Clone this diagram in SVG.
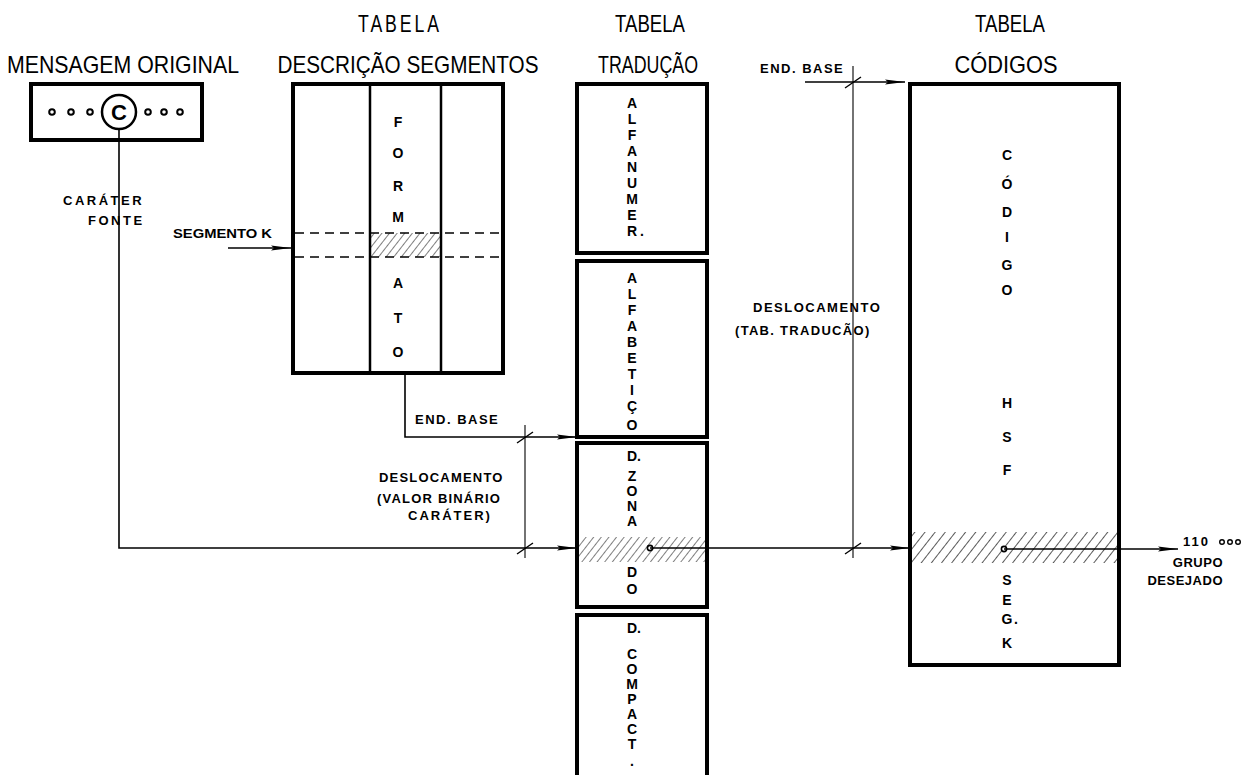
<svg xmlns="http://www.w3.org/2000/svg" width="1255" height="775" viewBox="0 0 1255 775">
  <defs>
    <style>
      .title { font-family: "Liberation Sans", Arial, sans-serif; font-size: 24px; fill: #000; }
      .lbl { font-family: "Liberation Sans", Arial, sans-serif; font-weight: bold; font-size: 13px; fill: #000; }
      .vl { font-family: "Liberation Sans", Arial, sans-serif; font-weight: bold; font-size: 14px; fill: #000; text-anchor: middle; }
      .box { fill: #fff; stroke: #000; stroke-width: 4; }
      .col { stroke: #000; stroke-width: 2.5; fill: none; }
      .dash { stroke: #000; stroke-width: 1.3; stroke-dasharray: 9 6; fill: none; }
      .wire { stroke: #000; stroke-width: 1.6; fill: none; }
      .thin { stroke: #000; stroke-width: 1.1; fill: none; }
      .tick { stroke: #000; stroke-width: 1.4; }
    </style>
    <pattern id="hatch" patternUnits="userSpaceOnUse" width="6" height="6" patternTransform="rotate(38)">
      <line x1="0" y1="0" x2="0" y2="6" stroke="#000" stroke-width="1"/>
    </pattern>
    <pattern id="hatchWide" patternUnits="userSpaceOnUse" width="8" height="8" patternTransform="rotate(38)">
      <line x1="0" y1="0" x2="0" y2="8" stroke="#000" stroke-width="1.3"/>
    </pattern>
    <marker id="arrow" markerUnits="userSpaceOnUse" markerWidth="22" markerHeight="10" refX="20" refY="5" orient="auto">
      <path d="M0,2.6 L20,5 L0,7.4 L3,5 z" fill="#000"/>
    </marker>
  </defs>

  <!-- headings -->
  <g id="titles">
    <text class="title" x="123" y="73" text-anchor="middle" textLength="232" lengthAdjust="spacingAndGlyphs">MENSAGEM ORIGINAL</text>
    <text class="title" x="400" y="32" text-anchor="middle" letter-spacing="4" textLength="84" lengthAdjust="spacingAndGlyphs">TABELA</text>
    <text class="title" x="408" y="73" text-anchor="middle" textLength="261" lengthAdjust="spacingAndGlyphs">DESCRIÇÃO  SEGMENTOS</text>
    <text class="title" x="650" y="32" text-anchor="middle" textLength="70" lengthAdjust="spacingAndGlyphs">TABELA</text>
    <text class="title" x="648" y="73" text-anchor="middle" textLength="100" lengthAdjust="spacingAndGlyphs">TRADUÇÃO</text>
    <text class="title" x="1010" y="32" text-anchor="middle" textLength="70" lengthAdjust="spacingAndGlyphs">TABELA</text>
    <text class="title" x="1006" y="73" text-anchor="middle" textLength="103" lengthAdjust="spacingAndGlyphs">CÓDIGOS</text>
  </g>

  <!-- source message -->
  <g id="mensagem">
    <rect class="box" x="31" y="84" width="171" height="56"/>
    <circle cx="119" cy="112" r="17" fill="#fff" stroke="#000" stroke-width="2.5"/>
    <text x="119" y="120" text-anchor="middle" font-family="Liberation Sans, Arial, sans-serif" font-weight="bold" font-size="22">C</text>
    <g fill="#fff" stroke="#000" stroke-width="2">
      <circle cx="52" cy="112" r="2.8"/>
      <circle cx="71" cy="112" r="2.8"/>
      <circle cx="90" cy="112" r="2.8"/>
      <circle cx="148" cy="112" r="2.8"/>
      <circle cx="164" cy="112" r="2.8"/>
      <circle cx="180" cy="112" r="2.8"/>
    </g>
  </g>

  <!-- segment description table -->
  <g id="descricao">
    <rect class="box" x="293" y="84" width="210" height="289"/>
    <rect x="370" y="233" width="71" height="24" fill="url(#hatch)"/>
    <line class="col" x1="370" y1="84" x2="370" y2="373"/>
    <line class="col" x1="441" y1="84" x2="441" y2="373"/>
    <line class="dash" x1="295" y1="233" x2="501" y2="233"/>
    <line class="dash" x1="295" y1="257" x2="501" y2="257"/>
    <text class="vl" x="398" y="127">F</text>
    <text class="vl" x="398" y="158">O</text>
    <text class="vl" x="398" y="191">R</text>
    <text class="vl" x="398" y="222">M</text>
    <text class="vl" x="398" y="288">A</text>
    <text class="vl" x="398" y="323">T</text>
    <text class="vl" x="398" y="357">O</text>
  </g>

  <!-- translation table, four sub-tables -->
  <g id="traducao">
    <rect class="box" x="577" y="84" width="130" height="169"/>
    <rect class="box" x="577" y="261" width="130" height="176"/>
    <rect class="box" x="577" y="443" width="130" height="164"/>
    <rect class="box" x="577" y="615" width="130" height="175"/>
    <rect x="579" y="537" width="126" height="25" fill="url(#hatch)"/>
    <g font-size="13">
      <text class="vl" x="632" y="108">A</text>
      <text class="vl" x="632" y="124">L</text>
      <text class="vl" x="632" y="140">F</text>
      <text class="vl" x="632" y="156">A</text>
      <text class="vl" x="632" y="172">N</text>
      <text class="vl" x="632" y="188">U</text>
      <text class="vl" x="632" y="204">M</text>
      <text class="vl" x="632" y="220">E</text>
      <text class="vl" x="632" y="236">R</text>
      <text class="vl" x="642" y="236">.</text>

      <text class="vl" x="632" y="283">A</text>
      <text class="vl" x="632" y="299">L</text>
      <text class="vl" x="632" y="315">F</text>
      <text class="vl" x="632" y="331">A</text>
      <text class="vl" x="632" y="347">B</text>
      <text class="vl" x="632" y="363">E</text>
      <text class="vl" x="632" y="379">T</text>
      <text class="vl" x="632" y="395">I</text>
      <text class="vl" x="632" y="411">Ç</text>
      <text class="vl" x="632" y="430">O</text>

      <text class="vl" x="634" y="461">D.</text>
      <text class="vl" x="632" y="481">Z</text>
      <text class="vl" x="632" y="496">O</text>
      <text class="vl" x="632" y="511">N</text>
      <text class="vl" x="632" y="526">A</text>
      <text class="vl" x="632" y="577">D</text>
      <text class="vl" x="632" y="594">O</text>

      <text class="vl" x="634" y="633">D.</text>
      <text class="vl" x="632" y="659">C</text>
      <text class="vl" x="632" y="674">O</text>
      <text class="vl" x="632" y="689">M</text>
      <text class="vl" x="632" y="704">P</text>
      <text class="vl" x="632" y="719">A</text>
      <text class="vl" x="632" y="734">C</text>
      <text class="vl" x="632" y="749">T</text>
      <text class="vl" x="632" y="766">.</text>
    </g>
    <circle cx="650" cy="548" r="2.6" fill="#fff" stroke="#000" stroke-width="1.6"/>
  </g>

  <!-- code table -->
  <g id="codigos">
    <rect class="box" x="910" y="84" width="209" height="581"/>
    <rect x="912" y="532" width="205" height="31" fill="url(#hatchWide)"/>
    <text class="vl" x="1007" y="160">C</text>
    <text class="vl" x="1007" y="189">Ó</text>
    <text class="vl" x="1007" y="217">D</text>
    <text class="vl" x="1007" y="242">I</text>
    <text class="vl" x="1007" y="270">G</text>
    <text class="vl" x="1007" y="295">O</text>
    <text class="vl" x="1007" y="408">H</text>
    <text class="vl" x="1007" y="442">S</text>
    <text class="vl" x="1007" y="475">F</text>
    <text class="vl" x="1007" y="585">S</text>
    <text class="vl" x="1007" y="605">E</text>
    <text class="vl" x="1007" y="624">G</text>
    <text class="vl" x="1016" y="624">.</text>
    <text class="vl" x="1007" y="648">K</text>
    <circle cx="1004" cy="549" r="2.6" fill="#fff" stroke="#000" stroke-width="1.6"/>
  </g>

  <!-- connectors and dimension lines -->
  <g id="connectors">
    <!-- source character down and across to the translation table -->
    <polyline class="wire" points="119,129 119,548 577,548" marker-end="url(#arrow)"/>
    <!-- segment K into the description table -->
    <line class="wire" x1="228" y1="248" x2="291" y2="248" marker-end="url(#arrow)"/>
    <!-- base address from description table -->
    <polyline class="wire" points="405,373 405,437 577,437" marker-end="url(#arrow)"/>
    <!-- displacement dimension (binary value) -->
    <line class="thin" x1="525" y1="425" x2="525" y2="558"/>
    <line class="tick" x1="517" y1="443" x2="533" y2="432"/>
    <line class="tick" x1="517" y1="554" x2="533" y2="543"/>
    <!-- translated value across to the code table -->
    <line class="wire" x1="650" y1="548" x2="910" y2="548" marker-end="url(#arrow)"/>
    <!-- base address of the code table -->
    <line class="wire" x1="805" y1="82" x2="905" y2="82" marker-end="url(#arrow)"/>
    <!-- displacement dimension (translation table) -->
    <line class="thin" x1="853" y1="66" x2="853" y2="558"/>
    <line class="tick" x1="845" y1="88" x2="861" y2="77"/>
    <line class="tick" x1="845" y1="554" x2="861" y2="543"/>
    <!-- resulting group -->
    <line class="wire" x1="1004" y1="549" x2="1178" y2="549" marker-end="url(#arrow)"/>
  </g>

  <!-- free labels -->
  <g id="labels">
    <text class="lbl" x="63" y="205" letter-spacing="2.5">CARÁTER</text>
    <text class="lbl" x="88" y="225" letter-spacing="2.5">FONTE</text>
    <text class="lbl" x="173" y="238" textLength="99" lengthAdjust="spacingAndGlyphs">SEGMENTO  K</text>
    <text class="lbl" x="415" y="424" letter-spacing="1.5">END. BASE</text>
    <text class="lbl" x="379" y="482" letter-spacing="1.2">DESLOCAMENTO</text>
    <text class="lbl" x="377" y="503" letter-spacing="1.2">(VALOR BINÁRIO</text>
    <text class="lbl" x="408" y="520" letter-spacing="2">CARÁTER)</text>
    <text class="lbl" x="760" y="73" letter-spacing="1.5">END. BASE</text>
    <text class="lbl" x="753" y="312" letter-spacing="1.5">DESLOCAMENTO</text>
    <text class="lbl" x="735" y="335" letter-spacing="1.3">(TAB. TRADUCÃO)</text>
    <text class="lbl" x="1183" y="546" font-size="15" letter-spacing="2">110</text>
    <g fill="#fff" stroke="#000" stroke-width="1.4">
      <circle cx="1222" cy="542" r="2.3"/>
      <circle cx="1230" cy="542" r="2.3"/>
      <circle cx="1238" cy="542" r="2.3"/>
    </g>
    <text class="lbl" x="1223" y="567" text-anchor="end" letter-spacing="0.5">GRUPO</text>
    <text class="lbl" x="1223" y="585" text-anchor="end" letter-spacing="0.5">DESEJADO</text>
  </g>
</svg>
